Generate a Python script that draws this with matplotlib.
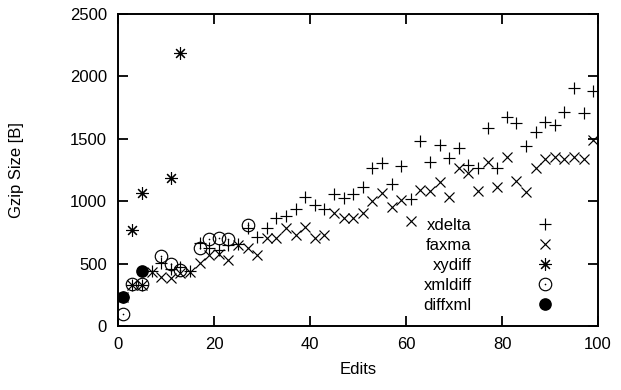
import numpy as np
import matplotlib.pyplot as plt
from matplotlib.legend_handler import HandlerTuple

plt.rcParams['font.family'] = ['Liberation Sans', 'DejaVu Sans']

edits = np.arange(1, 100, 2)

xdelta = [230, 330, 330, 440, 502, 455, 470, 445, 663, 622, 609, 649, 655, 783, 716,
          783, 863, 884, 940, 1033, 972, 940, 1060, 1023, 1058, 1116, 1263, 1303, 1138, 1282,
          1015, 1485, 1317, 1450, 1343, 1423, 1290, 1263, 1584, 1263, 1672, 1624, 1442, 1557, 1637,
          1611, 1717, 1905, 1704, 1883]

faxma = [230, 330, 330, 435, 395, 382, 422, 435, 502, 569, 580, 529, 649, 622, 569,
         708, 702, 783, 729, 796, 708, 729, 903, 863, 863, 903, 1001, 1068, 951, 1010,
         840, 1090, 1084, 1157, 1031, 1263, 1223, 1084, 1317, 1116, 1352, 1165, 1071, 1263, 1335,
         1352, 1335, 1352, 1335, 1490]

xydiff_x = [3, 5, 11, 13]
xydiff = [769, 1065, 1185, 2185]

xmldiff_x = [1, 3, 5, 9, 11, 13, 17, 19, 21, 23, 27]
xmldiff = [95, 340, 340, 561, 498, 452, 622, 695, 708, 695, 809]

diffxml_x = [1, 5]
diffxml = [230, 440]

fig = plt.figure(figsize=(6.21, 3.90), dpi=100)
ax = fig.add_axes([0.190, 0.164, 0.773, 0.800])

ms = 9
h1, = ax.plot(edits, xdelta, linestyle='none', marker='+', ms=ms, mew=0.85, color='black')
h2, = ax.plot(edits, faxma, linestyle='none', marker='x', ms=ms * 0.85, mew=0.85, color='black')
h3, = ax.plot(xydiff_x, xydiff, linestyle='none', marker=(8, 2, 0), ms=ms, mew=0.8, color='black')
h4a, = ax.plot(xmldiff_x, xmldiff, linestyle='none', marker='o', ms=ms, mew=0.85,
               mfc='none', color='black')
h4b, = ax.plot(xmldiff_x, xmldiff, linestyle='none', marker='o', ms=1.2, mew=0,
               color='black')
h5, = ax.plot(diffxml_x, diffxml, linestyle='none', marker='o', ms=ms * 0.9, color='black')

ax.set_xlim(0, 100)
ax.set_ylim(0, 2500)
ax.set_xticks(np.arange(0, 101, 20))
ax.set_yticks(np.arange(0, 2501, 500))
ax.tick_params(direction='in', length=7, width=1.3, top=True, right=True,
               labelsize=12, pad=8)
for s in ax.spines.values():
    s.set_linewidth(1.4)

ax.set_xlabel('Edits', fontsize=12, labelpad=7)
ax.set_ylabel('Gzip Size [B]', fontsize=12, labelpad=33)

ax.legend([h1, h2, h3, (h4a, h4b), h5], ['xdelta', 'faxma', 'xydiff', 'xmldiff', 'diffxml'],
          handler_map={tuple: HandlerTuple(ndivide=1, pad=0)},
          loc='lower right', bbox_to_anchor=(0.952, 0.0), frameon=False, markerfirst=False,
          fontsize=12, handlelength=2.0, handletextpad=3.4, labelspacing=0.3,
          borderpad=0.3)

fig.savefig('out.png', dpi=100)
